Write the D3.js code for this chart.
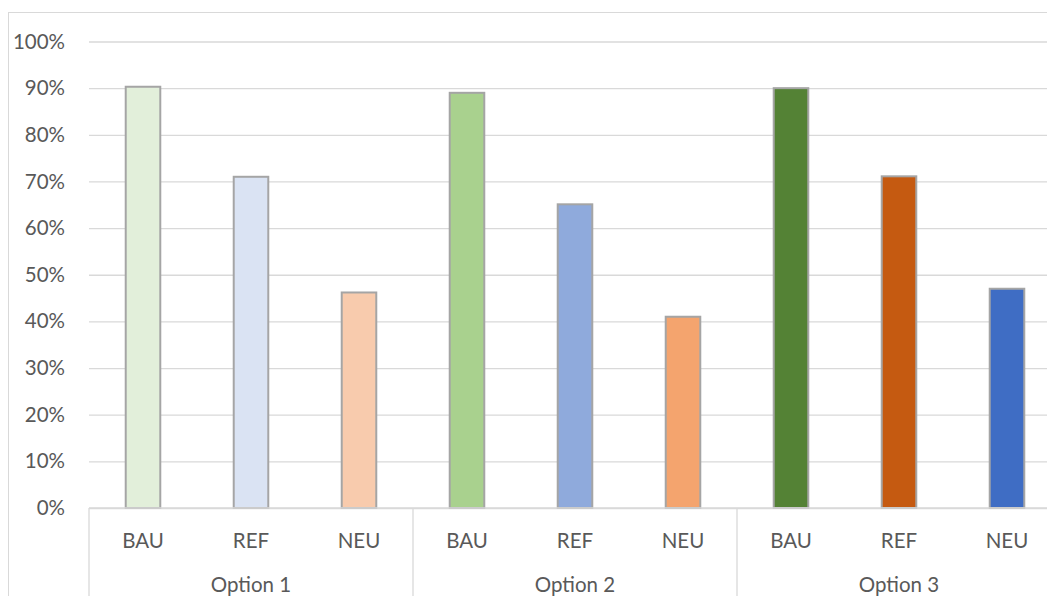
<!DOCTYPE html>
<html>
<head>
<meta charset="utf-8">
<script src="https://cdn.jsdelivr.net/npm/d3@7"></script>
<style>
  html, body { margin: 0; padding: 0; background: #fff; overflow: hidden; }
  svg { display: block; font-family: Lato, "Open Sans", sans-serif; }
</style>
</head>
<body>
<svg id="chart" width="1047" height="596"></svg>
<script>
// Scenario shares per option
const options = ["Option 1", "Option 2", "Option 3"];
const scenarios = ["BAU", "REF", "NEU"];
const option1 = [0.903, 0.710, 0.462];
const option2 = [0.890, 0.651, 0.410];
const option3 = [0.900, 0.711, 0.470];
const yTicks = [0, 0.1, 0.2, 0.3, 0.4, 0.5, 0.6, 0.7, 0.8, 0.9, 1.0];
const barColors = [
  ["#E2EFDA", "#DAE3F3", "#F8CBAD"],
  ["#A9D18E", "#8FAADC", "#F4A46E"],
  ["#548235", "#C55A11", "#3F6DC4"]
];

const seriesByOption = [option1, option2, option3];
const rows = [];
options.forEach((opt, gi) => {
  scenarios.forEach((sc, si) => {
    rows.push({ key: opt + "|" + sc, option: opt, scenario: sc, value: seriesByOption[gi][si], color: barColors[gi][si] });
  });
});

const svg = d3.select("#chart");
const plot = { left: 89, right: 1061, top: 41.5, bottom: 508 };
const gridColor = "#D9D9D9";
const textColor = "#595959";

// Chart outline
svg.append("rect")
  .attr("x", 8.5).attr("y", 12.5)
  .attr("width", 1100).attr("height", 700)
  .attr("fill", "none").attr("stroke", gridColor).attr("stroke-width", 1);

const x = d3.scaleBand()
  .domain(rows.map(d => d.key))
  .range([plot.left, plot.right])
  .paddingInner(0.68)
  .paddingOuter(0.34);

const y = d3.scaleLinear().domain([0, 1]).range([plot.bottom, plot.top]);

// Horizontal gridlines and percent labels
const yAxis = d3.axisLeft(y)
  .tickValues(yTicks)
  .tickFormat(d3.format(".0%"))
  .tickSize(-(plot.right - plot.left))
  .tickPadding(24);

const gy = svg.append("g")
  .attr("transform", `translate(${plot.left},0)`)
  .call(yAxis);
gy.select(".domain").remove();
gy.selectAll(".tick line").attr("stroke", gridColor).attr("stroke-width", 1.3);
gy.selectAll(".tick text")
  .attr("fill", textColor)
  .style("font-size", "20.5px")
  .style("font-family", "Lato, 'Open Sans', sans-serif");

// Bars
svg.append("g").selectAll("rect")
  .data(rows)
  .join("rect")
  .attr("x", d => x(d.key))
  .attr("y", d => y(d.value))
  .attr("width", x.bandwidth())
  .attr("height", d => y(0) - y(d.value))
  .attr("fill", d => d.color)
  .attr("stroke", "#A5A5A5")
  .attr("stroke-width", 2);

// Category axis baseline
svg.append("line")
  .attr("x1", plot.left).attr("x2", plot.right)
  .attr("y1", y(0)).attr("y2", y(0))
  .attr("stroke", gridColor).attr("stroke-width", 1.3);

// Group separators of the two-level category axis
const groupWidth = (plot.right - plot.left) / options.length;
const sepX = d3.range(options.length + 1).map(i => plot.left + i * groupWidth);
svg.append("g").selectAll("line")
  .data(sepX)
  .join("line")
  .attr("x1", d => d).attr("x2", d => d)
  .attr("y1", y(0)).attr("y2", 700)
  .attr("stroke", gridColor).attr("stroke-width", 1.3);

// Scenario labels
svg.append("g").selectAll("text")
  .data(rows)
  .join("text")
  .attr("x", d => x(d.key) + x.bandwidth() / 2)
  .attr("y", 540.5)
  .attr("dy", "0.35em")
  .attr("text-anchor", "middle")
  .attr("fill", textColor)
  .style("font-size", "20.5px")
  .text(d => d.scenario);

// Option labels
svg.append("g").selectAll("text")
  .data(options)
  .join("text")
  .attr("x", (d, i) => plot.left + (i + 0.5) * groupWidth)
  .attr("y", 584.5)
  .attr("dy", "0.35em")
  .attr("text-anchor", "middle")
  .attr("fill", textColor)
  .style("font-size", "20.5px")
  .text(d => d);
</script>
</body>
</html>
